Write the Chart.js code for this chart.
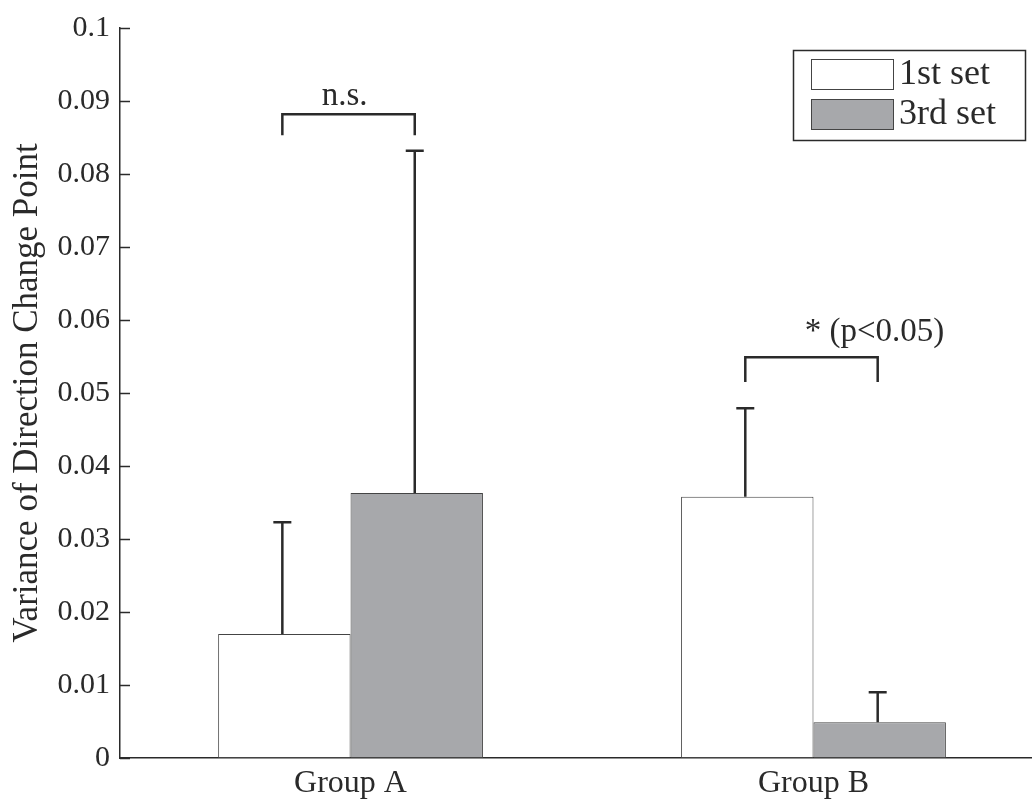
<!DOCTYPE html>
<html>
<head>
<meta charset="utf-8">
<script src="https://cdn.jsdelivr.net/npm/chart.js@4.4.0/dist/chart.umd.min.js"></script>
<style>
    html, body { margin: 0; padding: 0; background: #fff; }
    #wrap { width: 1032px; height: 800px; }
</style>
</head>
<body>
<div id="wrap"><canvas id="mainChart"></canvas></div>
<script>
// Values
const groups = ['Group A', 'Group B'];
const groupPositions = [1, 2];
const seriesNames = ['1st set', '3rd set'];
const set1Means = [0.0170, 0.0358];
const set1Errors = [0.0153, 0.0121];
const set3Means = [0.0363, 0.0049];
const set3Errors = [0.0469, 0.0041];
const yTickValues = [0, 0.01, 0.02, 0.03, 0.04, 0.05, 0.06, 0.07, 0.08, 0.09, 0.1];
const yTickLabels = ['0', '0.01', '0.02', '0.03', '0.04', '0.05', '0.06', '0.07', '0.08', '0.09', '0.1'];
const sigLabels = ['n.s.', '* (p<0.05)'];
const sigTop = [0.0882, 0.0549];
const sigBottom = [0.0853, 0.0515];

const FONT = "'Liberation Serif', 'Times New Roman', serif";
const INK = '#2a2a2a';
const GREY = '#a7a8ab';

// Error bars, significance brackets, inward ticks, boxed legend
const extras = {
    id: 'extras',
    afterDatasetsDraw(chart) {
        const ctx = chart.ctx;
        const y = chart.scales.y;
        const metas = [chart.getDatasetMeta(0), chart.getDatasetMeta(1)];
        const means = [set1Means, set3Means];
        const errs = [set1Errors, set3Errors];

        ctx.save();
        ctx.strokeStyle = INK;
        ctx.lineWidth = 2.5;
        metas.forEach((meta, d) => {
            meta.data.forEach((bar, i) => {
                const x = bar.x - 2;
                const yTop = y.getPixelForValue(means[d][i] + errs[d][i]);
                ctx.beginPath();
                ctx.moveTo(x, bar.y);
                ctx.lineTo(x, yTop);
                ctx.moveTo(x - 9, yTop);
                ctx.lineTo(x + 9, yTop);
                ctx.stroke();
            });
        });

        // brackets
        const labelShift = [-4, 63];
        const labelGap = [9, 16];
        ctx.fillStyle = INK;
        ctx.font = '33px ' + FONT;
        ctx.textBaseline = 'alphabetic';
        groups.forEach((g, i) => {
            const x1 = metas[0].data[i].x - 2;
            const x2 = metas[1].data[i].x - 2;
            const yT = y.getPixelForValue(sigTop[i]);
            const yB = y.getPixelForValue(sigBottom[i]);
            ctx.beginPath();
            ctx.moveTo(x1, yB);
            ctx.lineTo(x1, yT);
            ctx.lineTo(x2, yT);
            ctx.lineTo(x2, yB);
            ctx.stroke();
            ctx.textAlign = 'center';
            ctx.fillText(sigLabels[i], (x1 + x2) / 2 + labelShift[i], yT - labelGap[i]);
        });
        ctx.restore();
    },
    afterDraw(chart) {
        const ctx = chart.ctx;
        const y = chart.scales.y;
        const left = chart.chartArea.left;
        ctx.save();
        ctx.strokeStyle = INK;
        ctx.lineWidth = 1.5;
        yTickValues.forEach(v => {
            const py = Math.round(y.getPixelForValue(v)) + 0.5;
            ctx.beginPath();
            ctx.moveTo(left, py);
            ctx.lineTo(left + 10, py);
            ctx.stroke();
        });

        // legend
        ctx.lineWidth = 1.5;
        ctx.strokeRect(793.5, 50.5, 232, 90);
        const fills = ['#ffffff', GREY];
        ctx.font = '36px ' + FONT;
        ctx.textAlign = 'left';
        ctx.textBaseline = 'middle';
        seriesNames.forEach((name, i) => {
            const top = 59 + i * 40;
            ctx.fillStyle = fills[i];
            ctx.fillRect(811, top, 82, 30);
            ctx.lineWidth = 1;
            ctx.strokeStyle = '#444';
            ctx.strokeRect(811.5, top + 0.5, 82, 30);
            ctx.fillStyle = INK;
            ctx.fillText(name, 899, top + 16);
        });
        ctx.restore();
    }
};

function initializeChart() {
    const ctx = document.getElementById('mainChart');
    new Chart(ctx, {
        type: 'bar',
        data: {
            datasets: [{
                label: seriesNames[0],
                data: groupPositions.map((x, i) => ({ x: x, y: set1Means[i] })),
                backgroundColor: '#ffffff',
                borderColor: '#444',
                borderWidth: 1,
                borderSkipped: false
            }, {
                label: seriesNames[1],
                data: groupPositions.map((x, i) => ({ x: x, y: set3Means[i] })),
                backgroundColor: GREY,
                borderColor: '#444',
                borderWidth: 1,
                borderSkipped: false
            }]
        },
        options: {
            responsive: true,
            maintainAspectRatio: false,
            animation: false,
            categoryPercentage: 0.572,
            barPercentage: 1.0,
            layout: { padding: { top: 28, right: 0, bottom: 0, left: 0 } },
            scales: {
                x: {
                    type: 'linear',
                    offset: false,
                    min: 0.502,
                    max: 2.472,
                    afterBuildTicks: scale => {
                        scale.ticks = groupPositions.map(v => ({ value: v }));
                    },
                    afterFit: scale => { scale.height = 42; },
                    grid: { display: false, drawTicks: false, offset: false },
                    border: { display: true, color: INK, width: 1.5 },
                    ticks: {
                        padding: 6,
                        color: INK,
                        font: { family: FONT, size: 32 },
                        callback: v => groups[groupPositions.indexOf(v)] || ''
                    }
                },
                y: {
                    min: 0,
                    max: 0.1,
                    afterBuildTicks: scale => {
                        scale.ticks = yTickValues.map(v => ({ value: v }));
                    },
                    afterFit: scale => { scale.width = 120; },
                    grid: { display: false, drawTicks: false },
                    border: { display: true, color: INK, width: 1.5 },
                    ticks: {
                        padding: 10,
                        color: INK,
                        font: { family: FONT, size: 30 },
                        callback: v => yTickLabels[yTickValues.indexOf(v)]
                    },
                    title: {
                        display: true,
                        text: 'Variance of Direction Change Point',
                        color: INK,
                        font: { family: FONT, size: 35, lineHeight: 1 },
                        padding: { top: 10, bottom: 0 }
                    }
                }
            },
            plugins: {
                legend: { display: false },
                tooltip: { enabled: false }
            }
        },
        plugins: [extras]
    });
}

document.addEventListener('DOMContentLoaded', initializeChart);
</script>
</body>
</html>
